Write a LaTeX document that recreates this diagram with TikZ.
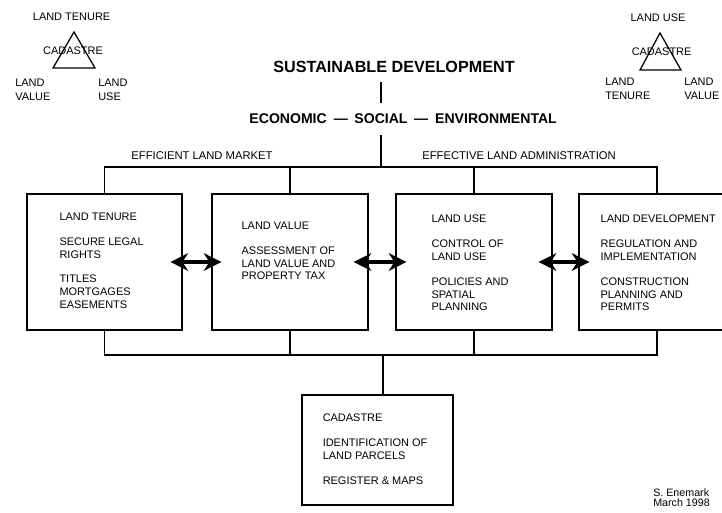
\documentclass[tikz,border=0pt]{standalone}
\usepackage{fontspec}
\setmainfont{Liberation Sans}
\usetikzlibrary{positioning, arrows.meta}

\begin{document}
\begin{tikzpicture}[every node/.style={inner sep=0pt, font=\fontsize{7.8}{9.2}\selectfont},
		box/.style={draw, line width=0.9pt, minimum width=3.9cm, minimum height=3.4cm},
		boxtext/.style={align=left, anchor=north west},
		small/.style={align=left, anchor=north west, font=\fontsize{7.8}{10}\selectfont},
		head/.style={font=\fontsize{10}{12}\selectfont\bfseries},
		link/.style={line width=0.9pt},
		twoway/.style={{Stealth[length=0.44cm, width=0.44cm]}-{Stealth[length=0.44cm, width=0.44cm]}, line width=2.2pt}]

			\useasboundingbox (0,0) rectangle (18.05,-12.825);

			% Triangle left
			\node (tenuretop) at (1.79,-0.425) {LAND TENURE};
			\draw[link] (1.85,-0.8) -- (2.375,-1.7) -- (1.325,-1.7) -- cycle;
			\node (cadleft) at (1.825,-1.275) {CADASTRE};
			\node[small] (valueleft) at (0.375,-1.975) {LAND\\VALUE};
			\node[small] (useleft) at (2.45,-1.975) {LAND\\USE};
			% Triangle right
			\node (usetop) at (16.45,-0.44) {LAND USE};
			\draw[link] (16.5,-0.825) -- (17.025,-1.75) -- (16.0,-1.75) -- cycle;
			\node (cadright) at (16.54,-1.29) {CADASTRE};
			\node[small] (tenureright) at (15.125,-1.93) {LAND\\TENURE};
			\node[small] (valueright) at (17.1,-1.93) {LAND\\VALUE};

			% Headline
			\node[font=\fontsize{11.5}{14}\selectfont\bfseries] (sust) at (9.85,-1.675) {SUSTAINABLE DEVELOPMENT};
			\node[head] (social) at (9.525,-2.975) {SOCIAL};
			\node[head, left=0.15cm of social] (econ) {ECONOMIC\enspace---};
			\node[head, right=0.15cm of social] (envir) {---\enspace ENVIRONMENTAL};
			\node[font=\fontsize{8}{10}\selectfont] (market) at (5.05,-3.9) {EFFICIENT LAND MARKET};
			\node[font=\fontsize{8}{10}\selectfont] (admin) at (12.975,-3.9) {EFFECTIVE LAND ADMINISTRATION};

			% Boxes
			\node[box, minimum width=3.875cm] (tenure) at (2.61,-6.55) {};
			\node[box] (value) at (7.25,-6.55) {};
			\node[box] (use) at (11.85,-6.55) {};
			\node[box] (devel) at (16.425,-6.55) {};
			\node[box, minimum width=3.775cm, minimum height=2.75cm] (cadastre) at (9.44,-11.25) {};
			% Box texts
			\node[boxtext] (tenuretxt) at ([xshift=0.825cm, yshift=-0.475cm]tenure.north west) {LAND TENURE\\[0.3cm]SECURE LEGAL\\RIGHTS\\[0.3cm]TITLES\\MORTGAGES\\EASEMENTS};
			\node[boxtext] (valuetxt) at ([xshift=0.75cm, yshift=-0.7cm]value.north west) {LAND VALUE\\[0.3cm]ASSESSMENT OF\\LAND VALUE AND\\PROPERTY TAX};
			\node[boxtext] (usetxt) at ([xshift=0.9cm, yshift=-0.525cm]use.north west) {LAND USE\\[0.3cm]CONTROL OF\\LAND USE\\[0.3cm]POLICIES AND\\SPATIAL\\PLANNING};
			\node[boxtext] (develtxt) at ([xshift=0.55cm, yshift=-0.525cm]devel.north west) {LAND DEVELOPMENT\\[0.3cm]REGULATION AND\\IMPLEMENTATION\\[0.3cm]CONSTRUCTION\\PLANNING AND\\PERMITS};
			\node[boxtext] (cadtxt) at ([xshift=0.525cm, yshift=-0.475cm]cadastre.north west) {CADASTRE\\[0.3cm]IDENTIFICATION OF\\LAND PARCELS\\[0.3cm]REGISTER \& MAPS};

			% Lines top
			\coordinate (topbus) at (9.525,-4.175);
			\draw[link, shorten <=0.23cm, shorten >=0.27cm] (sust.south -| social.north) -- (social.north);
			\draw[link, shorten <=0.27cm] (social.south) -- (topbus);
			\draw[link] (tenure.north) |- (topbus) -| (devel.north);
			\draw[link] (value.north) -- (value.north |- topbus);
			\draw[link] (use.north) -- (use.north |- topbus);
			% Lines bottom
			\coordinate (botbus) at (9.575,-8.875);
			\draw[link] (tenure.south) |- (botbus) -| (devel.south);
			\draw[link] (value.south) -- (value.south |- botbus);
			\draw[link] (use.south) -- (use.south |- botbus);
			\draw[link] (botbus) -- (botbus |- cadastre.north);
			% Arrows between boxes
			\draw[twoway] ([xshift=-0.3cm]tenure.east) -- ([xshift=0.25cm]value.west);
			\draw[twoway] ([xshift=-0.375cm]value.east) -- ([xshift=0.275cm]use.west);
			\draw[twoway] ([xshift=-0.35cm]use.east) -- ([xshift=0.275cm]devel.west);

			% Signature
			\node[align=left, anchor=north west, font=\fontsize{7.6}{6.8}\selectfont] (sign) at (16.325,-12.22) {S. Enemark\\March 1998};
		\end{tikzpicture}
\end{document}
